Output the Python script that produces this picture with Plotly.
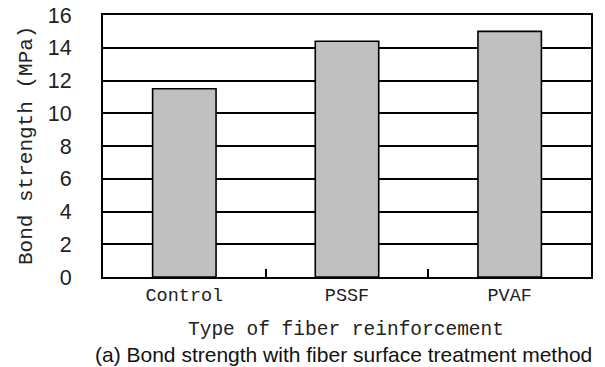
import plotly.graph_objects as go

categories = ["Control", "PSSF", "PVAF"]
bond_strength = [11.5, 14.4, 15.0]
y_ticks = [0, 2, 4, 6, 8, 10, 12, 14, 16]

mono = "Liberation Mono"

fig = go.Figure(
    go.Bar(
        x=categories,
        y=bond_strength,
        marker=dict(color="#c0c0c0", line=dict(color="#000000", width=1.6)),
        width=0.39,
    )
)

fig.update_layout(
    width=605,
    height=367,
    margin=dict(l=103, r=14, t=15, b=90, autoexpand=False),
    paper_bgcolor="white",
    plot_bgcolor="white",
    showlegend=False,
    bargap=0.6,
)

fig.update_xaxes(
    type="category",
    automargin=False,
    showline=True,
    mirror=True,
    linecolor="black",
    linewidth=2,
    ticks="inside",
    tickson="boundaries",
    ticklen=8,
    tickwidth=1.5,
    tickcolor="black",
    showgrid=False,
    tickfont=dict(family=mono, size=18.5, color="#222"),
)

fig.update_yaxes(
    range=[0, 16],
    tickvals=y_ticks,
    automargin=False,
    showline=True,
    mirror=True,
    linecolor="black",
    linewidth=2,
    ticks="",
    showgrid=True,
    gridcolor="black",
    gridwidth=1.6,
    zeroline=False,
    ticklabelstandoff=25,
    tickfont=dict(family="Liberation Sans, Arial", size=21.5, color="#222"),
)

fig.add_annotation(
    text="Bond strength (MPa)",
    xref="paper", yref="paper",
    x=0, y=0.5, xshift=-77, textangle=-90,
    xanchor="center", yanchor="middle",
    showarrow=False,
    font=dict(family=mono, size=21, color="#222"),
)
fig.add_annotation(
    text="Type of fiber reinforcement",
    xref="paper", yref="paper",
    x=0.5, y=0, yshift=-53, xshift=-1,
    xanchor="center", yanchor="middle",
    showarrow=False,
    font=dict(family=mono, size=19.5, color="#222"),
)
fig.add_annotation(
    text="(a) Bond strength with fiber surface treatment method",
    xref="paper", yref="paper",
    x=0.5, y=0, yshift=-77, xshift=-4,
    xanchor="center", yanchor="middle",
    showarrow=False,
    font=dict(family="Liberation Sans, Arial", size=21, color="#111"),
)

fig.write_html("out.html")
